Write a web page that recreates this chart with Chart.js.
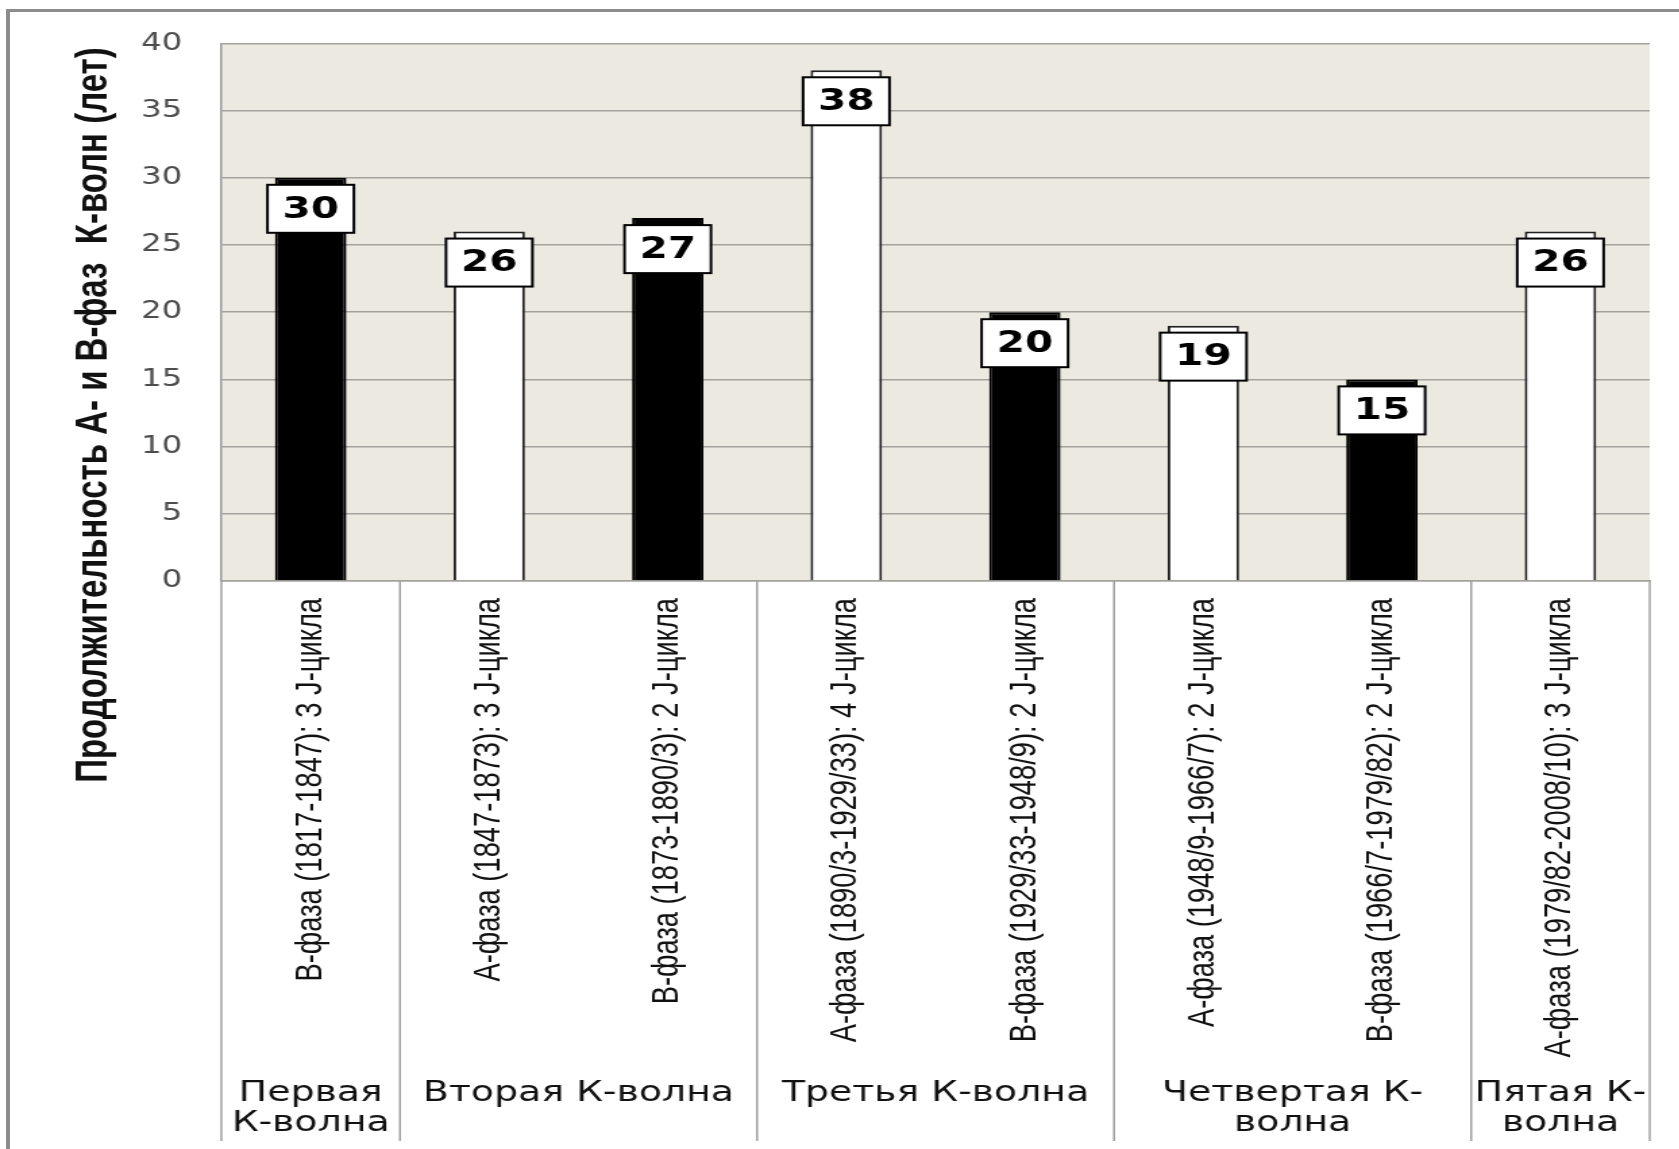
<!DOCTYPE html>
<html lang="ru">
<head>
<meta charset="utf-8">
<title>Продолжительность А- и В-фаз К-волн</title>
<script src="https://cdn.jsdelivr.net/npm/chart.js@4.4.1/dist/chart.umd.min.js"></script>
<style>
    html, body { margin: 0; padding: 0; background: #fff; overflow: hidden; }
    #frame {
        position: absolute; left: 6px; top: 9px; width: 1700px; height: 1200px;
        border-top: 3px solid #8c8c8c; border-left: 4px solid #8c8c8c;
    }
    /* the original picture is stretched sideways, so is this one */
    #wrap {
        position: absolute; left: 0; top: 0; width: 1244px; height: 1149px;
        transform: scaleX(1.35); transform-origin: 0 0;
    }
</style>
</head>
<body>
<div id="frame"></div>
<div id="wrap"><canvas id="kChart"></canvas></div>
<script>
// === DATA ===
const PHASE_LABELS = [
    "В-фаза (1817-1847): 3 J-цикла",
    "А-фаза (1847-1873): 3 J-цикла",
    "В-фаза (1873-1890/3): 2 J-цикла",
    "А-фаза (1890/3-1929/33): 4 J-цикла",
    "В-фаза (1929/33-1948/9): 2 J-цикла",
    "А-фаза (1948/9-1966/7): 2 J-цикла",
    "В-фаза (1966/7-1979/82): 2 J-цикла",
    "А-фаза (1979/82-2008/10): 3 J-цикла",
];
const DURATIONS = [30, 26, 27, 38, 20, 19, 15, 26];
const PHASE_TYPES = ["B", "A", "B", "A", "B", "A", "B", "A"];

const WAVE_NAMES = [
    ["Первая", "К-волна"],
    ["Вторая К-волна"],
    ["Третья К-волна"],
    ["Четвертая К-", "волна"],
    ["Пятая К-", "волна"],
];
const WAVE_SPANS = [1, 2, 2, 2, 1];

const Y_MIN = 0;
const Y_MAX = 40;
const Y_STEP = 5;
const Y_TITLE = "Продолжительность А- и В-фаз  К-волн (лет)";

// === COLORS ===
const COLORS = {
    plotBg: "#ece9e0",
    grid: "#a3a29c",
    divider: "#a0a0a0",
    tick: "#4d4d4d",
    text: "#111111",
    barA: "#ffffff",
    barB: "#000000",
    barEdge: "#222222",
};

// beige plot area
const plotBg = {
    id: "plotBg",
    beforeDraw(chart) {
        const { ctx, chartArea: a } = chart;
        ctx.save();
        ctx.fillStyle = COLORS.plotBg;
        ctx.fillRect(a.left, a.top, a.right - a.left, a.bottom - a.top);
        ctx.restore();
    },
};

// wave separators + wave names under the phase labels
const waveGroups = {
    id: "waveGroups",
    afterDraw(chart) {
        const { ctx, chartArea: a } = chart;
        const x = chart.scales.x;
        const half = (x.getPixelForValue(1) - x.getPixelForValue(0)) / 2;
        const bottom = chart.height - 8;

        ctx.save();
        ctx.strokeStyle = COLORS.divider;
        ctx.lineWidth = 1.5;
        let start = 0;
        const edges = [];
        WAVE_SPANS.forEach((span, g) => {
            const left = x.getPixelForValue(start) - half;
            const right = x.getPixelForValue(start + span - 1) + half;
            edges.push(left);
            if (g === WAVE_SPANS.length - 1) edges.push(right);

            ctx.fillStyle = COLORS.text;
            ctx.font = "28px 'DejaVu Sans'";
            ctx.textAlign = "center";
            ctx.textBaseline = "middle";
            WAVE_NAMES[g].forEach((line, k) => {
                ctx.fillText(line, (left + right) / 2, chart.height - 55 + k * 30);
            });
            start += span;
        });
        edges.forEach((ex) => {
            ctx.beginPath();
            ctx.moveTo(ex, a.bottom);
            ctx.lineTo(ex, bottom);
            ctx.stroke();
        });
        ctx.restore();
    },
};

// white boxed value labels just under each bar top
const valueBoxes = {
    id: "valueBoxes",
    afterDatasetsDraw(chart) {
        const { ctx } = chart;
        const meta = chart.getDatasetMeta(0);
        ctx.save();
        meta.data.forEach((bar, i) => {
            const w = 64, h = 48;
            const top = bar.y + 7;
            ctx.fillStyle = "#fff";
            ctx.fillRect(bar.x - w / 2, top, w, h);
            ctx.strokeStyle = "#000";
            ctx.lineWidth = 2;
            ctx.strokeRect(bar.x - w / 2, top, w, h);
            ctx.fillStyle = "#000";
            ctx.font = "bold 30px 'DejaVu Sans'";
            ctx.textAlign = "center";
            ctx.textBaseline = "middle";
            ctx.fillText(String(DURATIONS[i]), bar.x, top + h / 2 + 1);
        });
        ctx.restore();
    },
};

// rotated y title, centred on the whole picture rather than the plot
const yTitle = {
    id: "yTitle",
    afterDraw(chart) {
        const { ctx } = chart;
        ctx.save();
        ctx.translate(70, 415);
        ctx.rotate(-Math.PI / 2);
        ctx.fillStyle = COLORS.text;
        ctx.font = "bold 33px 'Liberation Sans'";
        ctx.textAlign = "center";
        ctx.textBaseline = "middle";
        ctx.fillText(Y_TITLE, 0, 0);
        ctx.restore();
    },
};

new Chart(document.getElementById("kChart"), {
    type: "bar",
    data: {
        labels: PHASE_LABELS,
        datasets: [
            {
                data: DURATIONS,
                backgroundColor: PHASE_TYPES.map((t) => (t === "A" ? COLORS.barA : COLORS.barB)),
                borderColor: PHASE_TYPES.map((t) => (t === "A" ? COLORS.barEdge : COLORS.barB)),
                borderWidth: 2,
                borderSkipped: "bottom",
                barPercentage: 0.4,
                categoryPercentage: 1,
            },
        ],
    },
    options: {
        responsive: true,
        maintainAspectRatio: false,
        animation: false,
        layout: { padding: { left: 0, right: 22, top: 42, bottom: 0 } },
        plugins: {
            legend: { display: false },
            tooltip: { enabled: false },
        },
        scales: {
            x: {
                grid: { display: false },
                border: { display: true, color: COLORS.grid, width: 1.5 },
                ticks: {
                    autoSkip: false,
                    minRotation: 90,
                    maxRotation: 90,
                    padding: 9,
                    color: COLORS.text,
                    font: { family: "'Liberation Sans'", size: 27.3 },
                },
                afterFit: (axis) => { axis.height = 568; },
            },
            y: {
                min: Y_MIN,
                max: Y_MAX,
                ticks: {
                    stepSize: Y_STEP,
                    padding: 29,
                    color: COLORS.tick,
                    font: { family: "'DejaVu Sans'", size: 24 },
                },
                grid: { color: COLORS.grid, lineWidth: 1.5, drawTicks: false },
                border: { display: true, color: "#9a9a9a", width: 1.5 },
                afterFit: (axis) => { axis.width = 164; },
            },
        },
    },
    plugins: [plotBg, valueBoxes, waveGroups, yTitle],
});
</script>
</body>
</html>
